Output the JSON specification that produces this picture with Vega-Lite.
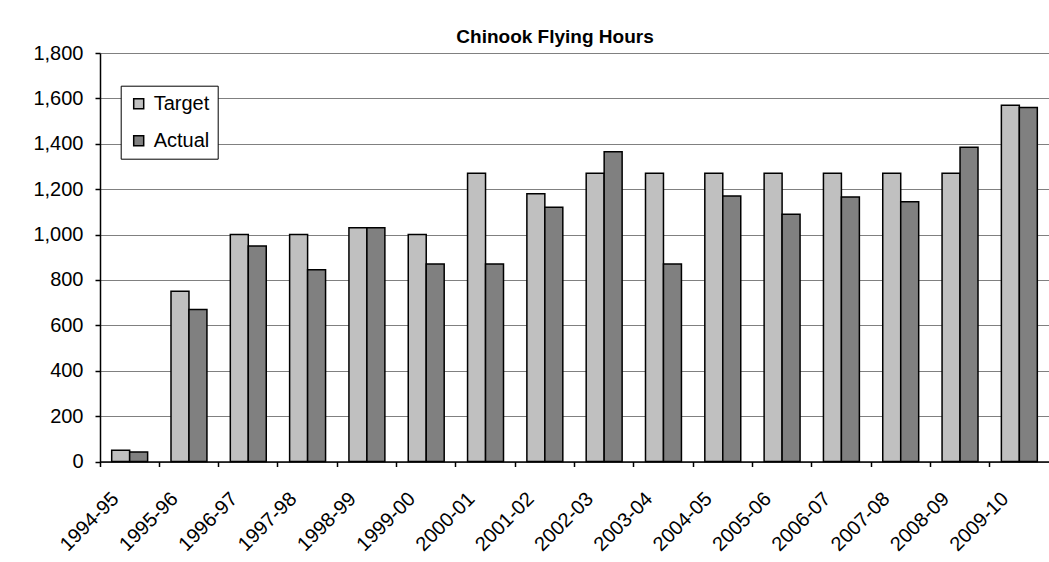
{
  "$schema": "https://vega.github.io/schema/vega-lite/v6.json",
  "width": 949,
  "height": 408.5,
  "autosize": {"type": "none"},
  "padding": {"left": 100, "top": 53, "right": 0, "bottom": 100.5},
  "background": "white",
  "title": {
    "text": "Chinook Flying Hours",
    "font": "Liberation Sans",
    "fontSize": 19,
    "fontWeight": "bold",
    "color": "black",
    "anchor": "middle",
    "dx": -19.5,
    "offset": -4
  },
  "data": {
    "values": [
      {"year": "1994-95", "series": "Target", "hours": 50},
      {"year": "1994-95", "series": "Actual", "hours": 42},
      {"year": "1995-96", "series": "Target", "hours": 750},
      {"year": "1995-96", "series": "Actual", "hours": 670},
      {"year": "1996-97", "series": "Target", "hours": 1000},
      {"year": "1996-97", "series": "Actual", "hours": 950},
      {"year": "1997-98", "series": "Target", "hours": 1000},
      {"year": "1997-98", "series": "Actual", "hours": 845},
      {"year": "1998-99", "series": "Target", "hours": 1030},
      {"year": "1998-99", "series": "Actual", "hours": 1030},
      {"year": "1999-00", "series": "Target", "hours": 1000},
      {"year": "1999-00", "series": "Actual", "hours": 870},
      {"year": "2000-01", "series": "Target", "hours": 1270},
      {"year": "2000-01", "series": "Actual", "hours": 870},
      {"year": "2001-02", "series": "Target", "hours": 1180},
      {"year": "2001-02", "series": "Actual", "hours": 1120},
      {"year": "2002-03", "series": "Target", "hours": 1270},
      {"year": "2002-03", "series": "Actual", "hours": 1365},
      {"year": "2003-04", "series": "Target", "hours": 1270},
      {"year": "2003-04", "series": "Actual", "hours": 870},
      {"year": "2004-05", "series": "Target", "hours": 1270},
      {"year": "2004-05", "series": "Actual", "hours": 1170},
      {"year": "2005-06", "series": "Target", "hours": 1270},
      {"year": "2005-06", "series": "Actual", "hours": 1090},
      {"year": "2006-07", "series": "Target", "hours": 1270},
      {"year": "2006-07", "series": "Actual", "hours": 1165},
      {"year": "2007-08", "series": "Target", "hours": 1270},
      {"year": "2007-08", "series": "Actual", "hours": 1145},
      {"year": "2008-09", "series": "Target", "hours": 1270},
      {"year": "2008-09", "series": "Actual", "hours": 1385},
      {"year": "2009-10", "series": "Target", "hours": 1570},
      {"year": "2009-10", "series": "Actual", "hours": 1560}
    ]
  },
  "mark": {"type": "bar", "stroke": "black", "strokeWidth": 1.5},
  "encoding": {
    "x": {
      "field": "year",
      "type": "nominal",
      "sort": null,
      "scale": {"paddingInner": 0.394, "paddingOuter": 0.197},
      "axis": {
        "title": null,
        "labelAngle": -45,
        "labelAlign": "right",
        "labelBaseline": "middle",
        "labelFont": "Liberation Sans",
        "labelFontSize": 20,
        "labelColor": "black",
        "labelPadding": 29,
        "labelOffset": -14,
        "bandPosition": -0.325,
        "tickSize": 5,
        "tickColor": "black",
        "tickWidth": 1.5,
        "domainColor": "black",
        "domainWidth": 1.5,
        "grid": false
      }
    },
    "xOffset": {
      "field": "series",
      "type": "nominal",
      "sort": ["Target", "Actual"],
      "scale": {"paddingInner": 0, "paddingOuter": 0}
    },
    "y": {
      "field": "hours",
      "type": "quantitative",
      "scale": {"domain": [0, 1800], "nice": false},
      "axis": {
        "title": null,
        "values": [0, 200, 400, 600, 800, 1000, 1200, 1400, 1600, 1800],
        "format": ",.0f",
        "labelFont": "Liberation Sans",
        "labelFontSize": 20,
        "labelColor": "black",
        "labelPadding": 12,
        "tickSize": 5,
        "tickColor": "black",
        "tickWidth": 1.5,
        "domainColor": "black",
        "domainWidth": 1.5,
        "grid": true,
        "gridColor": "#808080",
        "gridWidth": 1.2
      }
    },
    "color": {
      "field": "series",
      "type": "nominal",
      "sort": ["Target", "Actual"],
      "scale": {"domain": ["Target", "Actual"], "range": ["#C0C0C0", "#808080"]},
      "legend": {
        "title": null,
        "orient": "none",
        "legendX": 20.7,
        "legendY": 32.7,
        "direction": "vertical",
        "strokeColor": "black",
        "fillColor": "white",
        "padding": 8,
        "rowPadding": 17,
        "labelFont": "Liberation Sans",
        "labelFontSize": 20,
        "labelColor": "black",
        "labelOffset": 5,
        "symbolType": "square",
        "symbolSize": 100,
        "symbolStrokeColor": "black",
        "symbolStrokeWidth": 1.5,
        "symbolOpacity": 1
      }
    }
  },
  "config": {"view": {"stroke": null}}
}
